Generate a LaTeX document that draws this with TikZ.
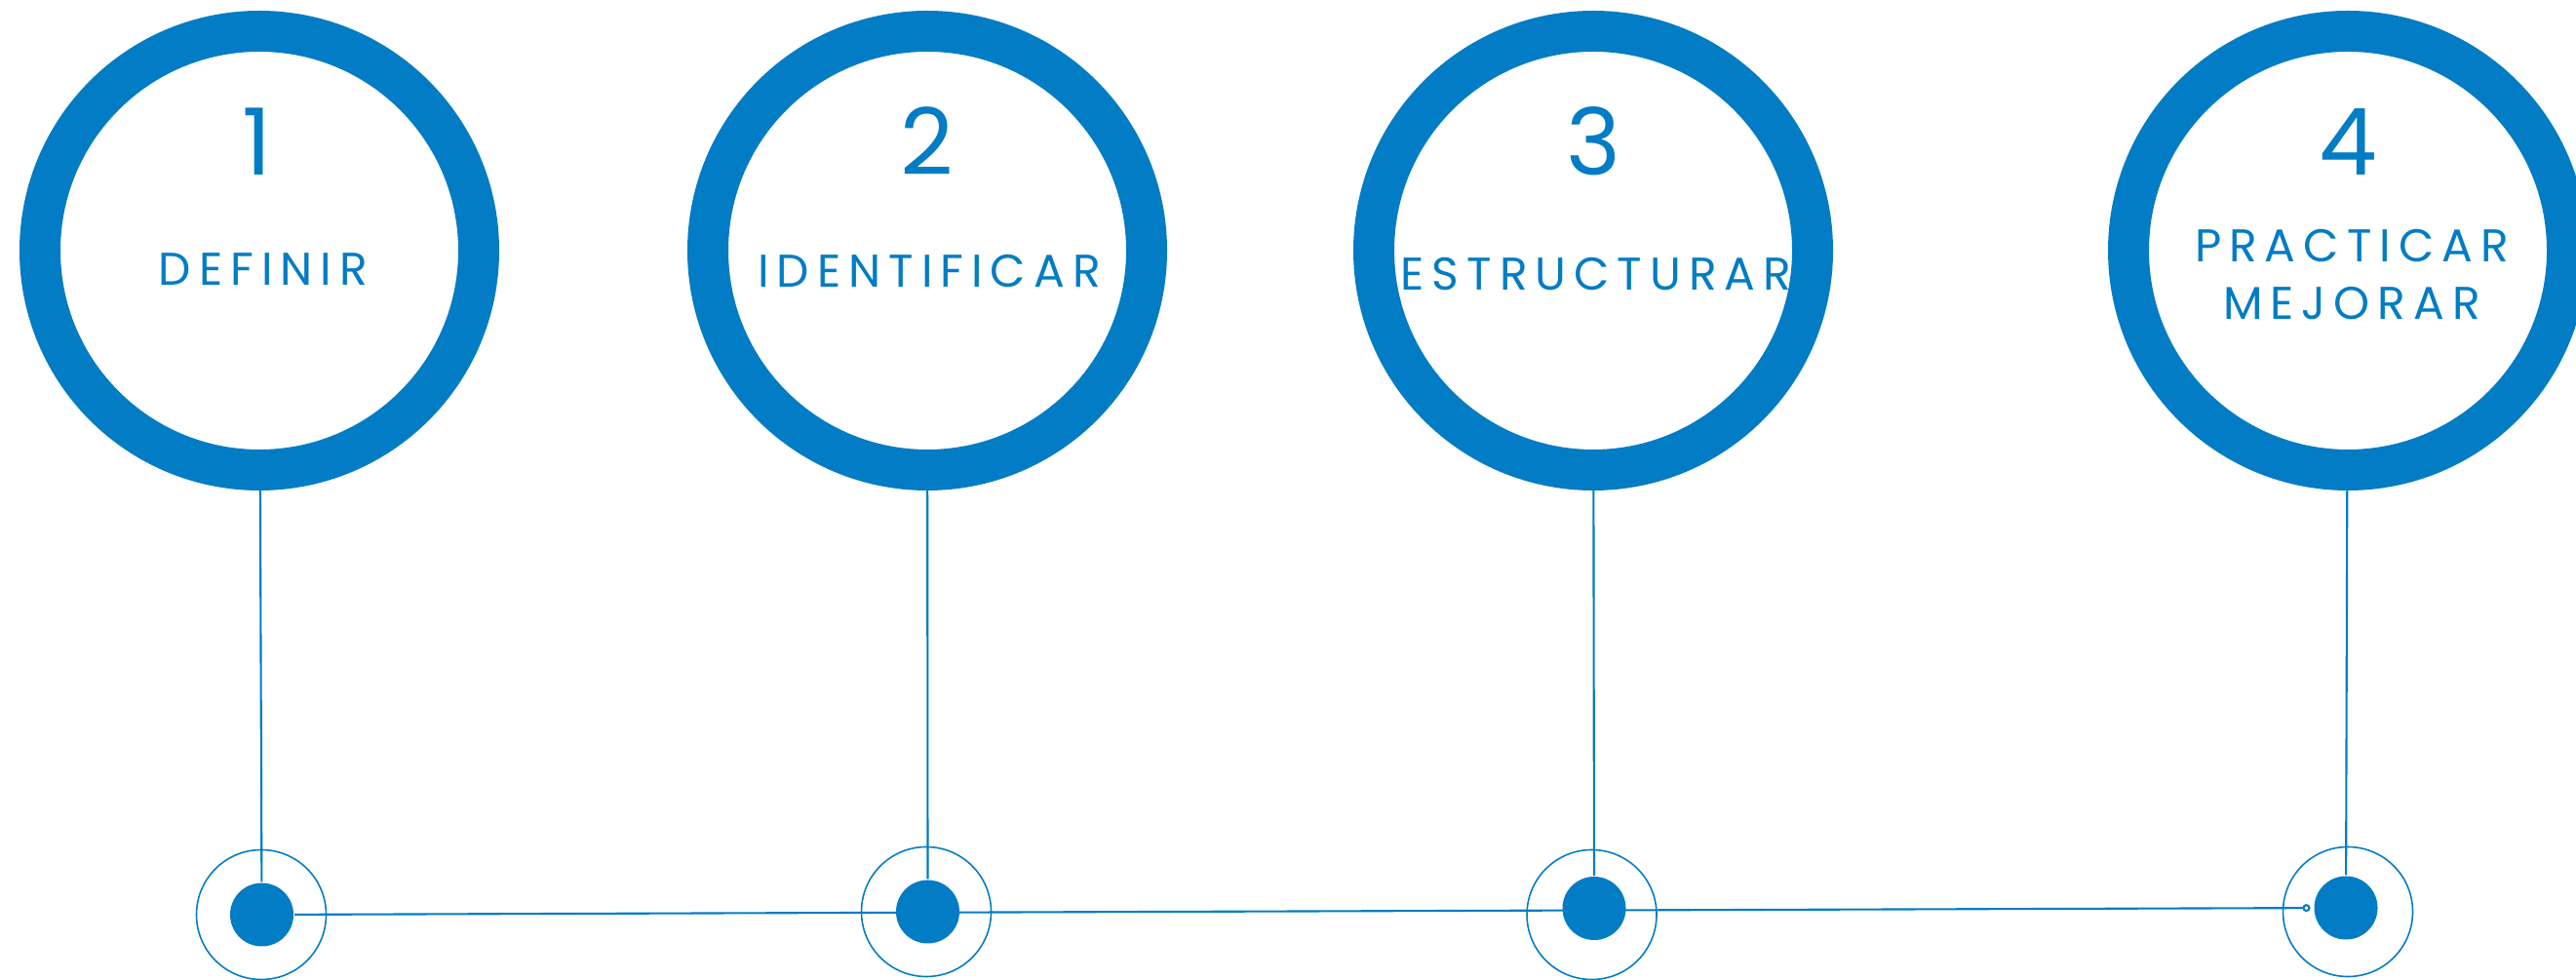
\documentclass[tikz,border=0pt]{standalone}
\usepackage{fontspec}
\setmainfont{Poppins}
\usetikzlibrary{arrows.meta}
\definecolor{azul}{RGB}{2,124,196}

\begin{document}
\begin{tikzpicture}[semithick, azul, text=azul,
    main/.style = {draw, circle, line width=4.2mm, minimum size=45mm, inner sep=0pt},
    ring/.style = {draw, circle, line width=0.45pt, minimum size=13.3mm, inner sep=0pt},
    dot/.style = {fill, circle, minimum size=6.5mm, inner sep=0pt},
    num/.style = {anchor=base, font=\fontsize{27}{27}\selectfont},
    word/.style = {anchor=base, font=\fontsize{13.4}{13.4}\selectfont\addfontfeature{LetterSpace=17}}]
    \useasboundingbox (0,0) rectangle (26.42,10.05);
    \node[main] (c1) at (2.66,7.48) {};
    \node[main] (c2) at (9.51,7.48) {};
    \node[main] (c3) at (16.34,7.48) {};
    \node[main] (c4) at (24.08,7.48) {};
    \node[num] (n1) at (2.64,8.25) {1};
    \node[num] (n2) at (9.51,8.25) {2};
    \node[num] (n3) at (16.34,8.25) {3};
    \node[num] (n4) at (24.08,8.25) {4};
    \node[word] (w1) at (2.70,7.12) {DEFINIR};
    \node[word] (w2) at (9.53,7.10) {IDENTIFICAR};
    \node[word] (w3) at (16.37,7.07) {ESTRUCTURAR};
    \node[word] (w4) at (24.12,7.36) {PRACTICAR};
    \node[word] (w5) at (24.12,6.77) {MEJORAR};
    \node[ring] (r1) at (2.68,0.67) {};
    \node[ring] (r2) at (9.50,0.70) {};
    \node[ring] (r3) at (16.325,0.67) {};
    \node[ring] (r4) at (24.08,0.70) {};
    \node[dot] (d1) at (2.685,0.67) {};
    \node[dot] (d2) at (9.515,0.70) {};
    \node[dot] (d3) at (16.35,0.735) {};
    \node[dot] (d4) at (24.06,0.74) {};
    \draw (c1) -- (d1);
    \draw (c2) -- (d2);
    \draw (c3) -- (d3);
    \draw (c4) -- (d4);
    \draw[-{Circle[open,length=0.8mm]}, shorten >=0.3mm] (d1) -- (d4);
\end{tikzpicture}
\end{document}
